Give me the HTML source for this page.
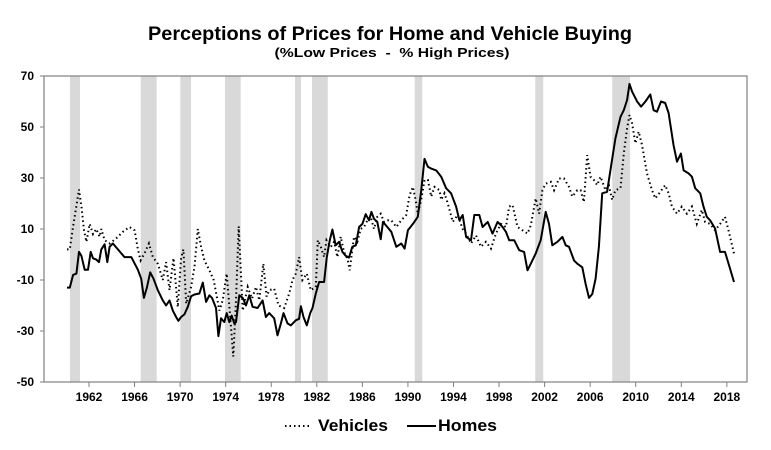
<!DOCTYPE html>
<html><head><meta charset="utf-8"><style>
html,body{margin:0;padding:0;background:#fff;}
svg{display:block;font-family:"Liberation Sans",Arial,sans-serif;}
</style></head><body>
<svg id="chart" width="771" height="450" viewBox="0 0 771 450">
<text x="390" y="40" text-anchor="middle" font-weight="bold" font-size="19" textLength="484" lengthAdjust="spacingAndGlyphs">Perceptions of Prices for Home and Vehicle Buying</text>
<text x="392" y="57" text-anchor="middle" font-weight="bold" font-size="13" textLength="235" lengthAdjust="spacingAndGlyphs" xml:space="preserve">(%Low Prices  -  % High Prices)</text>
<g id="bands"></g>
<g id="axes"></g>
<g id="series"></g>
<g>
<line x1="285" y1="426" x2="311" y2="426" stroke="#000" stroke-width="2" stroke-dasharray="1.5 3"/>
<text x="318" y="431" font-weight="bold" font-size="17" textLength="70" lengthAdjust="spacingAndGlyphs">Vehicles</text>
<line x1="407" y1="426" x2="436" y2="426" stroke="#000" stroke-width="2"/>
<text x="438" y="431" font-weight="bold" font-size="17" textLength="59" lengthAdjust="spacingAndGlyphs">Homes</text>
</g>
</svg>
<script>
const yTicks=[70,50,30,10,-10,-30,-50];
const xTicks=[1962,1966,1970,1974,1978,1982,1986,1990,1994,1998,2002,2006,2010,2014,2018];
const recessions=[[1960.33,1961.21],[1966.54,1967.94],[1970.02,1970.96],[1973.94,1975.32],[1980.09,1980.61],[1981.58,1982.96],[1990.6,1991.26],[2001.18,2001.88],[2007.94,2009.5]];
const homesYears=[1960.07,1960.31,1960.60,1960.89,1961.12,1961.33,1961.62,1961.91,1962.15,1962.35,1962.64,1962.88,1963.08,1963.37,1963.61,1963.81,1964.10,1964.54,1965.12,1965.71,1966.29,1966.58,1966.82,1967.08,1967.37,1967.66,1968.04,1968.48,1968.77,1969.07,1969.36,1969.65,1969.85,1970.09,1970.38,1970.67,1970.96,1971.26,1971.69,1971.99,1972.28,1972.57,1972.80,1973.15,1973.36,1973.59,1973.88,1974.09,1974.32,1974.53,1974.76,1974.91,1975.20,1975.49,1975.78,1976.07,1976.36,1976.80,1977.24,1977.53,1977.82,1978.26,1978.55,1978.85,1979.08,1979.43,1979.72,1980.16,1980.45,1980.60,1980.83,1981.12,1981.42,1981.62,1981.91,1982.20,1982.64,1982.88,1983.14,1983.37,1983.66,1983.96,1984.25,1984.54,1984.83,1985.12,1985.42,1985.71,1986.00,1986.29,1986.58,1986.79,1987.02,1987.31,1987.61,1987.81,1988.19,1988.54,1988.98,1989.42,1989.71,1990.00,1990.44,1990.87,1991.17,1991.46,1991.75,1992.04,1992.48,1992.92,1993.35,1993.79,1994.23,1994.52,1994.81,1995.11,1995.54,1995.83,1996.27,1996.56,1997.00,1997.43,1997.87,1998.31,1998.60,1998.89,1999.33,1999.77,2000.20,2000.50,2000.79,2001.22,2001.66,2002.10,2002.39,2002.68,2003.12,2003.56,2003.85,2004.14,2004.58,2004.87,2005.31,2005.60,2005.90,2006.19,2006.48,2006.77,2007.06,2007.49,2007.78,2008.22,2008.66,2008.95,2009.24,2009.45,2009.68,2010.12,2010.47,2010.85,2011.28,2011.57,2011.87,2012.22,2012.59,2012.89,2013.32,2013.62,2013.97,2014.20,2014.64,2014.93,2015.22,2015.66,2015.95,2016.24,2016.53,2016.97,2017.41,2017.84,2018.28,2018.63];
const homesValues=[-13,-13,-8,-7.5,1,-0.5,-6,-6,1,-1.5,-2,-3,2,4,-3,3,4.3,2,-1,-1,-6,-9.5,-17,-13,-7,-9.5,-14,-18,-20,-18,-22,-24.5,-26,-24.5,-23.5,-20.5,-16.4,-15.7,-15.3,-11,-18.6,-16,-17,-21,-32,-25,-26.5,-23,-26.5,-24,-27,-26.5,-16,-17,-20,-16,-20.5,-21,-18,-24.5,-23,-25,-31.7,-27,-23,-27,-27.8,-25.8,-25.2,-20.3,-24.5,-27.8,-23,-21,-15.3,-10.8,-10.8,-1,5.6,9.8,3.6,5,1,-0.5,-1.2,3,3.6,10.8,12,15.8,13.4,16.7,14,12.8,6,12.8,10.8,8.9,3,4.3,2.3,9.5,12,14.8,25,37.5,34.4,33.7,33,30.5,26,24,18.8,13.4,15.5,6.9,5.6,15.5,15.5,10.8,12.8,8.2,12.8,10.8,8.9,5.6,5.6,1.7,1,-6.2,-3.6,0.4,5.6,16.7,12,3.6,5,6.9,3.6,3,-2.3,-3.6,-5,-11.5,-17,-15.5,-9.5,3,24,24.6,33,45.5,54,56.6,60.6,66.9,63.9,60,58,60,62.8,56.6,56,60,59.4,55.5,43,36.4,39.6,33,31.8,30.5,26,24,18.8,14.8,13.4,10.2,1,1,-5.5,-10.8];
const vehYears=[1960.07,1960.31,1960.60,1960.89,1961.12,1961.33,1961.56,1961.77,1962.06,1962.35,1962.64,1962.93,1963.08,1963.37,1963.81,1964.39,1964.98,1965.56,1966.00,1966.29,1966.53,1966.88,1967.26,1967.61,1968.04,1968.48,1968.77,1969.07,1969.42,1969.80,1970.09,1970.29,1970.53,1970.96,1971.26,1971.55,1971.84,1972.13,1972.57,1972.95,1973.45,1973.74,1974.09,1974.47,1974.67,1974.91,1975.14,1975.49,1975.93,1976.31,1976.66,1976.95,1977.30,1977.59,1977.82,1978.26,1978.64,1979.14,1979.58,1979.87,1980.16,1980.45,1980.74,1981.12,1981.47,1981.91,1982.09,1982.35,1982.64,1982.85,1983.23,1983.52,1983.81,1984.10,1984.39,1984.69,1984.89,1985.27,1985.56,1985.85,1986.15,1986.44,1986.73,1987.02,1987.31,1987.61,1987.90,1988.19,1988.54,1988.98,1989.42,1989.85,1990.15,1990.44,1990.67,1990.87,1991.17,1991.46,1991.75,1992.04,1992.33,1992.77,1992.92,1993.21,1993.50,1993.94,1994.37,1994.81,1995.11,1995.54,1995.98,1996.41,1996.85,1997.29,1997.72,1998.16,1998.60,1998.89,1999.18,1999.62,2000.06,2000.50,2000.79,2001.22,2001.52,2001.81,2002.10,2002.54,2002.83,2003.27,2003.70,2004.14,2004.43,2004.87,2005.16,2005.45,2005.74,2006.03,2006.33,2006.62,2006.91,2007.35,2007.64,2007.93,2008.22,2008.66,2008.95,2009.24,2009.45,2009.68,2009.97,2010.26,2010.55,2010.99,2011.43,2011.72,2012.16,2012.59,2012.89,2013.18,2013.62,2014.05,2014.49,2014.93,2015.36,2015.80,2016.09,2016.53,2016.97,2017.41,2017.84,2018.22,2018.63];
const vehValues=[2,2,11,19,25.5,19,9.5,5,12,8,10,7,10,5.6,4.3,6.3,8.9,10.8,9.5,2,-2.3,0.5,4.3,-1,-3.6,-10,-3,-14,-1.4,-20.6,-1.4,2,-19.3,-12.7,-4.8,10,3,-2.3,-6.2,-10,-22,-18,-7.5,-28.5,-40,-18,11,-22,-12.7,-17.3,-12.7,-18,-3.6,-16.5,-14,-13.4,-20,-21,-15.3,-10,-7.5,-1,-10,-7.5,-14,-12.7,5.6,3,-1,5.6,3,5,-1,7,1,-1.6,-6.2,7,5,10,10.8,13.4,14.8,10,14.8,16,12.8,13.4,13.4,10.8,13.4,15.5,23.3,26.5,21.4,16,21.4,29.2,29.2,22.7,26.5,25.2,21.4,24,20,12.8,15.5,10,8.2,4.3,7.5,3,5,2.3,8.2,12,10.8,18.8,19.4,10.8,9.5,8.2,11.4,22,16,25.2,27.8,28.5,25.2,29.8,29.8,26.5,22.7,25.2,25.2,20.6,39,30.5,29.2,27.2,30.5,25.2,27.2,21.4,25.2,26,39.6,49.5,54.7,51.4,43.6,48.2,43,31.8,25.2,22,24.6,27.2,24,18.8,16,18.8,16,18.8,12,17.5,12.8,12,9.5,12,14.8,8.2,0.4];

const NS='http://www.w3.org/2000/svg';
const L=44,R=747,T=76,B=382,yMin=-50,yMax=70;
function xs(yr){return 89+(yr-1962)*11.39;}
function ys(v){return T+(yMax-v)/(yMax-yMin)*(B-T);}
function mk(tag,attrs,parent,txt){const e=document.createElementNS(NS,tag);for(const k in attrs)e.setAttribute(k,attrs[k]);if(txt!==undefined)e.textContent=txt;parent.appendChild(e);return e;}
const bands=document.getElementById('bands'),axes=document.getElementById('axes'),series=document.getElementById('series');
recessions.forEach(r=>{
  const e=mk('rect',{x:xs(r[0]),y:T,width:xs(r[1])-xs(r[0]),height:B-T,fill:'#d9d9d9'},bands);
  
  
});
const frame=mk('rect',{x:L,y:T,width:R-L,height:B-T,fill:'none',stroke:'#808080','stroke-width':1.2},axes);


yTicks.forEach(v=>{
  mk('line',{x1:L-4,x2:L,y1:ys(v),y2:ys(v),stroke:'#808080'},axes);
  const t=mk('text',{x:34,y:ys(v)+4,'text-anchor':'end','font-size':12,'font-weight':'bold'},axes,String(v));
  
  
});
xTicks.forEach(yr=>{
  mk('line',{x1:xs(yr),x2:xs(yr),y1:B,y2:B+5,stroke:'#808080'},axes);
  const t=mk('text',{x:xs(yr),y:B+19,'text-anchor':'middle','font-size':12,'font-weight':'bold'},axes,String(yr));
  
  
});
function path(years,vals){return years.map((y,i)=>(i?'L':'M')+xs(y).toFixed(1)+' '+ys(vals[i]).toFixed(1)).join(' ');}
const v=mk('path',{d:path(vehYears,vehValues),fill:'none',stroke:'#000','stroke-width':2,'stroke-dasharray':'1.5 3'},series);


const h=mk('path',{d:path(homesYears,homesValues),fill:'none',stroke:'#000','stroke-width':2,'stroke-linejoin':'round'},series);


</script>
</body></html>
